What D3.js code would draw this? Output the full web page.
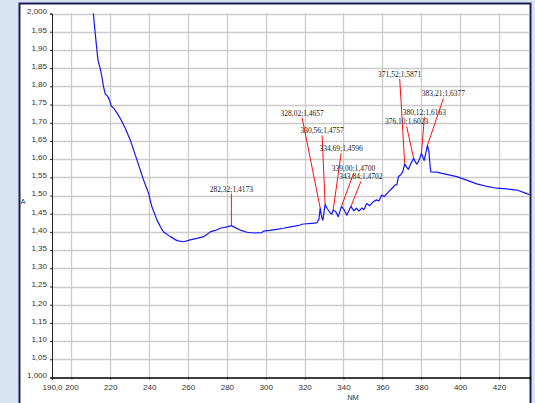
<!DOCTYPE html>
<html>
<head>
<meta charset="utf-8">
<script src="https://cdn.jsdelivr.net/npm/d3@7"></script>
<style>
  html, body { margin: 0; padding: 0; background: #d6e4f4; }
  svg { display: block; }
</style>
</head>
<body>
<svg id="chart" width="535" height="403"></svg>
<script>
// UV-Vis absorbance spectrum (wavelength in nm, absorbance A)
const wavelengths = [
  210.8, 211.3, 211.9, 212.6, 213.1, 213.7, 214.2, 214.8, 215.7, 216.5,
  217.4, 218.6, 219.6, 220.5, 221.7, 223.4, 225.1, 227.7, 230.3, 233.7,
  237.1, 239.7, 241.4, 244.0, 246.0, 247.4, 250.9, 254.3, 257.7, 261.1,
  264.6, 268.0, 270.0, 271.4, 274.0, 276.6, 279.5, 282.32, 284.5, 286.9,
  290.3, 294.0, 298.0, 298.8, 302.0, 305.7, 309.0, 312.6, 315.0, 317.7,
  318.6, 322.0, 326.3, 327.4, 328.02, 328.8, 329.4, 330.56, 331.5, 333.2,
  334.0, 334.69, 336.0, 337.3, 339.00, 340.2, 341.7, 343.84, 345.3, 346.7,
  348.0, 349.5, 350.5, 352.0, 353.5, 355.4, 357.0, 358.2, 359.7, 361.0,
  363.2, 365.0, 366.6, 367.5, 368.3, 369.5, 370.5, 371.52, 372.5, 373.4,
  374.8, 376.10, 377.2, 377.8, 379.0, 380.12, 381.5, 382.3, 383.21, 384.0,
  384.6, 385.0, 388.0, 393.0, 398.3, 403.0, 408.6, 413.0, 418.9, 424.0,
  429.2, 433.0, 436.4
];
const absorbance = [
  2.015, 2.000, 1.964, 1.927, 1.900, 1.872, 1.861, 1.849, 1.826, 1.799,
  1.779, 1.773, 1.762, 1.746, 1.740, 1.727, 1.712, 1.685, 1.652, 1.598,
  1.543, 1.506, 1.469, 1.433, 1.412, 1.400, 1.387, 1.376, 1.373, 1.378,
  1.382, 1.387, 1.394, 1.400, 1.404, 1.410, 1.413, 1.4173, 1.411, 1.405,
  1.399, 1.397, 1.398, 1.402, 1.404, 1.407, 1.410, 1.414, 1.416, 1.419,
  1.421, 1.423, 1.425, 1.435, 1.4657, 1.440, 1.432, 1.4757, 1.465, 1.452,
  1.449, 1.4596, 1.456, 1.442, 1.4700, 1.462, 1.446, 1.4702, 1.458, 1.465,
  1.457, 1.466, 1.461, 1.478, 1.472, 1.483, 1.488, 1.485, 1.501, 1.497,
  1.510, 1.520, 1.529, 1.530, 1.552, 1.557, 1.565, 1.5871, 1.578, 1.572,
  1.589, 1.6023, 1.590, 1.586, 1.598, 1.6163, 1.596, 1.615, 1.6377, 1.620,
  1.580, 1.565, 1.564, 1.558, 1.552, 1.543, 1.532, 1.526, 1.520, 1.518,
  1.515, 1.508, 1.501
];

// Picked peaks (wavelength ; absorbance)
const peakWavelengths = [282.32, 328.02, 330.56, 334.69, 339.00, 343.84, 371.52, 376.10, 380.12, 383.21];
const peakValues      = [1.4173, 1.4657, 1.4757, 1.4596, 1.4700, 1.4702, 1.5871, 1.6023, 1.6163, 1.6377];

// Axis ticks
const xTicks = [190, 200, 220, 240, 260, 280, 300, 320, 340, 360, 380, 400, 420];
const yTicks = d3.range(0, 21).map(i => +(1 + i * 0.05).toFixed(2));

// Callout placement: label centre offset from its peak, in pixels
const calloutOffsets = [
  [0, -34], [-18, -92], [-3, -71], [8, -59], [12, -35],
  [10, -27], [-5, -87], [-7, -34], [3, -38], [16, -49]
];

const svg = d3.select("#chart");
const W = 535, H = 403;

// Panel
svg.append("rect").attr("x", 0).attr("y", 0).attr("width", W).attr("height", H).attr("fill", "#d6e4f4");
svg.append("rect").attr("x", 19.5).attr("y", 3.5).attr("width", 511).attr("height", H + 10)
  .attr("fill", "#ffffff").attr("stroke", "#1e1f55").attr("stroke-width", 2);

const plotLeft = 52, plotRight = 529.5, plotTop = 13.5, plotBottom = 377.5;
const x = d3.scaleLinear().domain([190, 436]).range([plotLeft, plotRight + 0.5]);
const y = d3.scaleLinear().domain([1, 2]).range([plotBottom, plotTop]);

// Grid
const grid = svg.append("g");
grid.selectAll("line.h").data(yTicks.filter(v => v > 1)).join("line")
  .attr("x1", plotLeft).attr("x2", plotRight)
  .attr("y1", d => Math.round(y(d)) + 0.5).attr("y2", d => Math.round(y(d)) + 0.5)
  .attr("stroke", "#cbcbcb").attr("stroke-width", 1.3);
grid.selectAll("line.v").data(xTicks.filter(v => v > 190)).join("line")
  .attr("y1", plotTop).attr("y2", plotBottom)
  .attr("x1", d => Math.round(x(d)) + 0.5).attr("x2", d => Math.round(x(d)) + 0.5)
  .attr("stroke", "#cbcbcb").attr("stroke-width", 1.3);

// Axes
const fmtY = d => (d === 1 || d === 2) ? d.toFixed(3).replace(".", ",") : d.toFixed(2).replace(".", ",");
const fmtX = d => d === 190 ? "190,0" : String(d);

const yAxis = svg.append("g").attr("transform", `translate(${plotLeft},0)`)
  .call(d3.axisLeft(y).tickValues(yTicks).tickFormat(fmtY).tickSize(2).tickPadding(3));
yAxis.select(".domain").attr("stroke", "#222").attr("stroke-width", 1);
yAxis.selectAll(".tick line").attr("stroke", "#222");
yAxis.selectAll(".tick text").attr("dy", "0.05em")
  .attr("font-family", "Liberation Sans, Arial, sans-serif").attr("font-size", 8).attr("fill", "#333");

const xAxis = svg.append("g").attr("transform", `translate(0,${plotBottom})`)
  .call(d3.axisBottom(x).tickValues(xTicks).tickFormat(fmtX).tickSize(2).tickPadding(5));
xAxis.select(".domain").attr("stroke", "#000").attr("stroke-width", 1.5);
xAxis.selectAll(".tick line").attr("stroke", "#222");
xAxis.selectAll(".tick text")
  .attr("font-family", "Liberation Sans, Arial, sans-serif").attr("font-size", 8).attr("fill", "#333");

svg.append("text").attr("x", 353).attr("y", 400).attr("text-anchor", "middle")
  .attr("font-family", "Liberation Sans, Arial, sans-serif").attr("font-size", 7.5).attr("fill", "#333").text("NM");
svg.append("text").attr("x", 23).attr("y", 204).attr("text-anchor", "middle")
  .attr("font-family", "Liberation Sans, Arial, sans-serif").attr("font-size", 7.5).attr("fill", "#333").text("A");

// Spectrum
svg.append("clipPath").attr("id", "plotClip").append("rect")
  .attr("x", plotLeft).attr("y", plotTop).attr("width", plotRight - plotLeft).attr("height", plotBottom - plotTop);
const spectrum = wavelengths.map((w, i) => [w, absorbance[i]]);
svg.append("path").datum(spectrum).attr("clip-path", "url(#plotClip)")
  .attr("fill", "none").attr("stroke", "#1414ff").attr("stroke-width", 1.2)
  .attr("stroke-linejoin", "round")
  .attr("d", d3.line().x(d => x(d[0])).y(d => y(d[1])));

// Peak callouts
const fmtPeak = (w, a) => w.toFixed(2).replace(".", ",") + ";" + a.toFixed(4).replace(".", ",");
const callouts = svg.append("g");
peakWavelengths.forEach((w, i) => {
  const px = x(w), py = y(peakValues[i]);
  const [dx, dy] = calloutOffsets[i];
  const tx = px + dx, ty = py + dy;
  callouts.append("line")
    .attr("x1", px).attr("y1", py).attr("x2", tx).attr("y2", ty + 2)
    .attr("stroke", "#ff1010").attr("stroke-width", 1);
  callouts.append("text").attr("x", tx).attr("y", ty).attr("text-anchor", "middle")
    .attr("font-family", "Liberation Serif, Times New Roman, serif").attr("font-size", 7.5)
    .attr("fill", "#222").text(fmtPeak(w, peakValues[i]));
});
</script>
</body>
</html>
